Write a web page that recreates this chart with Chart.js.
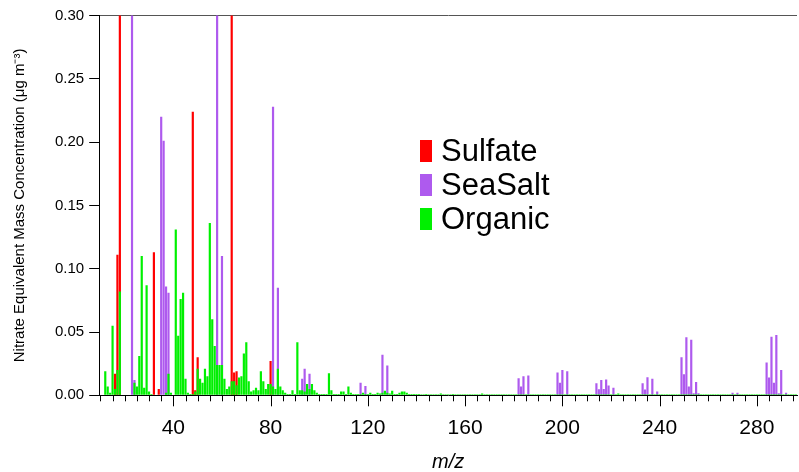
<!DOCTYPE html>
<html>
<head>
<meta charset="utf-8">
<script src="https://cdn.jsdelivr.net/npm/chart.js@4.4.0/dist/chart.umd.min.js"></script>
<style>
  body { margin: 0; background: #fff; }
  #wrap { position: relative; width: 799px; height: 472px; }
  #legend { position: absolute; left: 420px; top: 134px; font-family: 'Liberation Sans', Arial, sans-serif; font-size: 31px; color: #000; }
  #legend .row { display: flex; align-items: center; height: 34px; }
  #legend .sw { width: 12px; height: 22px; margin-right: 9px; }
</style>
</head>
<body>
<div id="wrap">
  <canvas id="massSpecChart"></canvas>
  <div id="legend">
    <div class="row"><span class="sw" style="background:#ff0000"></span>Sulfate</div>
    <div class="row"><span class="sw" style="background:#ae5aee"></span>SeaSalt</div>
    <div class="row"><span class="sw" style="background:#00f000"></span>Organic</div>
  </div>
</div>
<script>
// sulfate peaks (m/z, value) - the 18 and 64 peaks go off scale
const sulfateMz = [16, 17, 18, 32, 34, 48, 49, 50, 64, 65, 66, 80];
const sulfate = [0.017, 0.111, 0.45, 0.113, 0.005, 0.224, 0.004, 0.030, 0.42, 0.018, 0.019, 0.027];

// sea salt peaks - 23 and 58 off scale
const seaSaltMz = [23, 24, 35, 36, 37, 38, 58, 60, 81, 83,
  93, 94, 96, 117, 119, 126, 128,
  182, 183, 184, 186, 198, 199, 200, 202,
  214, 215, 216, 217, 218, 219, 221,
  233, 234, 235, 237, 239,
  249, 250, 251, 252, 253, 254, 255, 256,
  270, 272, 284, 285, 286, 287, 288, 289, 290, 292];
const seaSalt = [0.5, 0.012, 0.220, 0.201, 0.086, 0.081, 0.55, 0.110, 0.228, 0.085,
  0.013, 0.021, 0.017, 0.010, 0.0074, 0.032, 0.0235,
  0.0135, 0.007, 0.015, 0.0156, 0.018, 0.010, 0.020, 0.019,
  0.0095, 0.0048, 0.012, 0.005, 0.0125, 0.0077, 0.006,
  0.0095, 0.0045, 0.0143, 0.013, 0.003,
  0.030, 0.0167, 0.0458, 0.0069, 0.0439, 0.0016, 0.0106, 0.0016,
  0.002, 0.002, 0.026, 0.014, 0.0463, 0.010, 0.0476, 0.0016, 0.020, 0.002];

// organic, one value per m/z starting at 12
const organicStart = 12;
const organic = [
  0.019, 0.007, 0.002, 0.055, 0.005, 0.020, 0.082, 0, 0, 0,            // 12
  0, 0, 0.010, 0.007, 0.031, 0.110, 0.006, 0.087, 0.003, 0.001,        // 22
  0, 0, 0, 0, 0, 0.002, 0.017, 0.002, 0, 0.131,                        // 32
  0.047, 0.076, 0.081, 0.013, 0.002, 0.001, 0.001, 0.003, 0.021, 0.013, // 42
  0.010, 0.021, 0.015, 0.136, 0.060, 0.039, 0.024, 0.024, 0.024, 0.013, // 52
  0.005, 0.007, 0.011, 0.011, 0.008, 0.014, 0.015, 0.033, 0.042, 0.011, // 62
  0.003, 0.004, 0.006, 0.004, 0.019, 0.011, 0.005, 0.009, 0.009, 0.007, // 72
  0.005, 0.021, 0.007, 0.004, 0.002, 0.001, 0.001, 0.004, 0.001, 0.042, // 82
  0.004, 0.004, 0.003, 0.009, 0.005, 0.009, 0.004, 0.002, 0.001, 0.001, // 92
  0.001, 0.001, 0.0175, 0.004, 0.001, 0.001, 0.001, 0.003, 0.003, 0.001, // 102
  0.007, 0.002, 0.001, 0.001, 0.001, 0.001, 0.002, 0.001, 0.001, 0.002, // 112
  0.001, 0.001, 0.002, 0.0015, 0.002, 0.0035, 0.002, 0.0015, 0.0035, 0.001, // 122
  0.001, 0.002, 0.003, 0.003, 0.002, 0.001, 0.001, 0.001, 0.001, 0.001, // 132
  0.0008, 0.0008, 0.001, 0.0008, 0.0008, 0.0008, 0.0008, 0.0008, 0.0015, 0.0008, // 142
  0.0008, 0.0008, 0.0008, 0.001, 0.0008, 0.0008, 0.0008, 0.0008, 0.0008, 0.0008, // 152
  0.0008, 0.0008, 0.0008, 0.0008, 0.0008, 0.0015, 0.0008, 0.0008, 0.0008, 0.0008, // 162
  0.0008, 0.0008, 0.0008, 0.0008, 0.0008, 0.0008, 0.0008, 0.0008, 0.0008, 0.0008, // 172
  0.0008, 0.0008, 0.0008, 0.0008, 0.0008, 0.0008, 0.0008, 0.0008, 0.0008, 0.0008, // 182
  0.0008, 0.0008, 0.0008, 0.0008, 0.0008, 0.0008, 0.0008, 0.0008, 0.0008, 0.0008, // 192
  0.0008, 0.0008, 0.0008, 0.0008, 0.0008, 0.0008, 0.0008, 0.0008, 0.0008, 0.0008, // 202
  0.0008, 0.0008, 0.0008, 0.0008, 0.0008, 0.0008, 0.0008, 0.0008, 0.0008, 0.0008, // 212
  0.0008, 0.0015, 0.0008, 0.0008, 0.0008, 0.0008, 0.0008, 0.0008, 0.0008, 0.0008, // 222
  0.0008, 0.0008, 0.0008, 0.0008, 0.0008, 0.0008, 0.0008, 0.0008, 0.0008, 0.0008, // 232
  0.0008, 0.0008, 0.0008, 0.0008, 0.0008, 0.0008, 0.0008, 0.0008, 0.0008, 0.0008, // 242
  0.0008, 0.0008, 0.0008, 0.0008, 0.0008, 0.0008, 0.0008, 0.0008, 0.0008, 0.0008, // 252
  0.0008, 0.0008, 0.0008, 0.0008, 0.0008, 0.0008, 0.0008, 0.0008, 0.0008, 0.0008, // 262
  0.0008, 0.0008, 0.0008, 0.0008, 0.0008, 0.0008, 0.0008, 0.0008, 0.0008, 0.0008, // 272
  0.0008, 0.0008, 0.0008, 0.0008, 0.0008, 0.0008, 0.0008, 0.0008, 0.0008, 0.0008, // 282
  0.0008, 0.0008, 0.0008, 0.0008, 0.0008                                           // 292
];

const xTickLabels = [40, 80, 120, 160, 200, 240, 280];
const yTicks = [0, 0.05, 0.10, 0.15, 0.20, 0.25, 0.30];

const xMinorTicks = [];
for (let v = 10; v <= 295; v += 5) xMinorTicks.push(v);

Chart.defaults.font.family = "'Liberation Sans', Arial, sans-serif";
Chart.defaults.color = '#000';

// x tick marks: long at the labelled values, short every 5
const xTickMarks = {
  id: 'xTickMarks',
  afterDraw(chart) {
    const x = chart.scales.x;
    const c = chart.ctx;
    c.save();
    c.strokeStyle = '#000';
    c.lineWidth = 1;
    c.beginPath();
    x.ticks.forEach(t => {
      const len = xTickLabels.includes(t.value) ? 11 : 6;
      const px = Math.round(x.getPixelForValue(t.value)) + 0.5;
      c.moveTo(px, x.top);
      c.lineTo(px, x.top + len);
    });
    c.stroke();
    c.restore();
  }
};

const isTop = c => !!(c.tick && Math.abs(c.tick.value - 0.3) < 1e-9);
const toPoints = (xs, ys) => ys.map((v, i) => ({ x: xs[i], y: v }));

const ctx = document.getElementById('massSpecChart').getContext('2d');
const massSpecChart = new Chart(ctx, {
  type: 'bar',
  data: {
    datasets: [{
      label: 'Sulfate',
      data: toPoints(sulfateMz, sulfate),
      backgroundColor: '#ff0000',
      order: 2
    }, {
      label: 'SeaSalt',
      data: toPoints(seaSaltMz, seaSalt),
      backgroundColor: '#ae5aee',
      order: 1
    }, {
      label: 'Organic',
      data: organic.map((v, i) => ({ x: organicStart + i, y: v })),
      backgroundColor: '#00f000',
      order: 0
    }]
  },
  options: {
    responsive: true,
    maintainAspectRatio: false,
    animation: false,
    grouped: false,
    barPercentage: 0.9,
    categoryPercentage: 1,
    clip: 0,
    layout: { padding: { top: 15.5, right: 2, bottom: 0, left: 0 } },
    plugins: {
      legend: { display: false },
      tooltip: { enabled: false }
    },
    scales: {
      x: {
        type: 'linear',
        min: 9.5,
        max: 296.5,
        offset: false,
        afterBuildTicks: axis => { axis.ticks = xMinorTicks.map(v => ({ value: v })); },
        ticks: {
          autoSkip: false,
          maxRotation: 0,
          padding: 2,
          font: { size: 21 },
          callback: v => xTickLabels.includes(v) ? String(v) : ''
        },
        grid: {
          offset: false,
          drawOnChartArea: false,
          tickLength: 18,
          tickColor: 'rgba(0,0,0,0)'
        },
        border: { color: '#000', width: 1 },
        title: {
          display: true,
          text: 'm/z',
          font: { size: 20, style: 'italic', lineHeight: 1 },
          padding: { top: 9.5, bottom: 0 }
        }
      },
      y: {
        min: 0,
        max: 0.3,
        afterBuildTicks: axis => { axis.ticks = yTicks.map(v => ({ value: v })); },
        ticks: {
          padding: 5,
          font: { size: 15 },
          callback: v => v.toFixed(2)
        },
        grid: {
          tickLength: 10,
          tickColor: '#000',
          color: c => isTop(c) ? '#555' : 'rgba(0,0,0,0)'
        },
        border: { color: '#000', width: 1 },
        title: {
          display: true,
          text: 'Nitrate Equivalent Mass Concentration (μg m⁻³)',
          font: { size: 15 },
          padding: { top: 11, bottom: 21 }
        }
      }
    }
  },
  plugins: [xTickMarks]
});
</script>
</body>
</html>
